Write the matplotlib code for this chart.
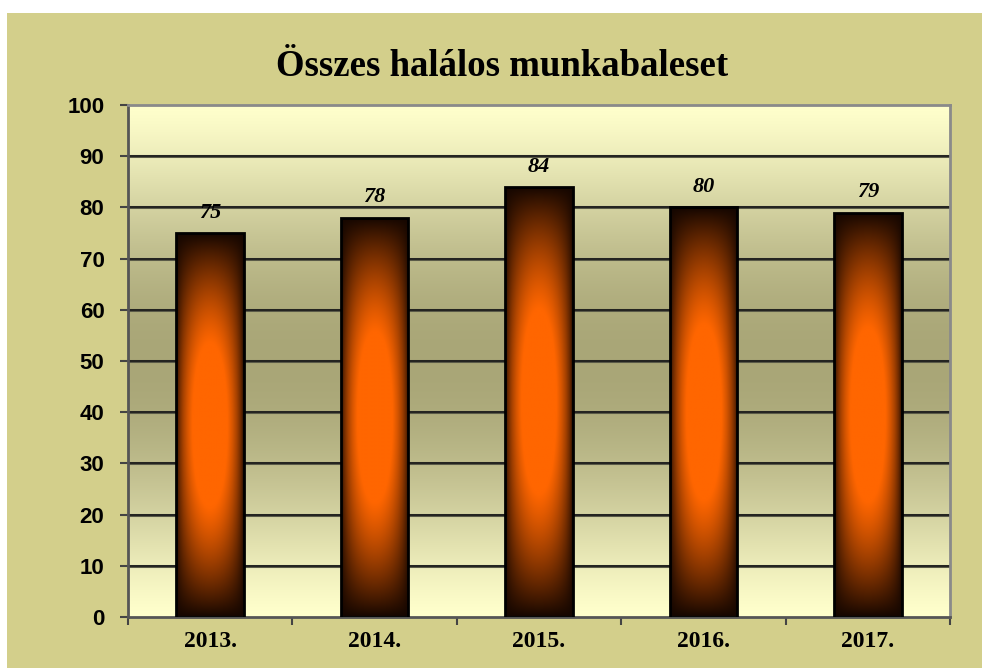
import numpy as np
import matplotlib
matplotlib.use('Agg')
import matplotlib.pyplot as plt
from matplotlib.patches import Rectangle
from matplotlib.colors import to_rgb

# Adatok
years = ['2013.', '2014.', '2015.', '2016.', '2017.']
deaths = [75, 78, 84, 80, 79]
title = 'Összes halálos munkabaleset'

fig = plt.figure(figsize=(9.82, 6.68), dpi=100, facecolor='white')
# khaki háttér (fent és bal oldalt fehér csík marad)
fig.patches.append(Rectangle((7 / 982, 0), 1, (668 - 13) / 668, transform=fig.transFigure,
                             facecolor='#D3CF8B', edgecolor='none', zorder=-5))

ax = fig.add_axes([128 / 982, 51 / 668, 822 / 982, 512 / 668])
ax.set_zorder(2)
ax.set_xlim(-0.5, len(years) - 0.5)
ax.set_ylim(0, 100)

# háttér színátmenet a rajzterületen
light = np.array(to_rgb('#FFFFCC'))
dark = np.array(to_rgb('#A9A677'))
t = np.linspace(0, 1, 256)
w = np.sin(np.pi * t) ** 1.3
bg = light[None, :] * (1 - w[:, None]) + dark[None, :] * w[:, None]
ax.imshow(bg[:, None, :], extent=[0, 1, 0, 1], transform=ax.transAxes,
          aspect='auto', zorder=0, interpolation='bilinear')

for v in range(10, 100, 10):
    ax.axhline(v, color='#5a5a48', lw=2.2, zorder=1)
    ax.axhline(v, color='#1a1a1a', lw=1.2, zorder=1)

bars = ax.bar(range(len(years)), deaths, width=0.41, facecolor='none',
              edgecolor='black', linewidth=2, zorder=3)

# oszlopok színátmenete
orange = np.array(to_rgb('#FF6600'))
black = np.array(to_rgb('#140600'))
nx, ny = 120, 300
xx = np.linspace(0, 1, nx)
yy = np.linspace(0, 1, ny)
hx = np.sin(np.pi * xx) ** 0.6
vy = np.sin(np.pi * yy) ** 0.9
f = np.clip(vy[:, None] * hx[None, :] * 1.25, 0, 1)
grad = black[None, None, :] * (1 - f[..., None]) + orange[None, None, :] * f[..., None]
for b in bars:
    x0, y0, bw, bh = b.get_x(), b.get_y(), b.get_width(), b.get_height()
    im = ax.imshow(grad, extent=[x0, x0 + bw, y0, y0 + bh], aspect='auto',
                   zorder=2, interpolation='bilinear', origin='lower')
    im.set_clip_path(b)

ax.set_xlim(-0.5, len(years) - 0.5)
ax.set_ylim(0, 100)

for i, v in enumerate(deaths):
    ax.text(i, v + 2.0, str(v), ha='center', va='bottom', fontsize=16,
            fontweight='bold', fontstyle='italic', family='Liberation Serif', zorder=4)

ax.set_yticks(range(0, 101, 10))
ax.set_yticklabels([str(v) for v in range(0, 101, 10)], fontsize=16,
                   fontweight='bold', family='Liberation Sans')
ax.set_xticks(range(len(years)))
ax.set_xticklabels(years, fontsize=17, fontweight='bold', family='Liberation Serif')
ax.set_xticks(np.arange(-0.5, len(years), 1), minor=True)
ax.tick_params(axis='x', which='major', length=0, pad=10)
ax.tick_params(axis='x', which='minor', length=6, width=1.5, color='#444444')
ax.tick_params(axis='y', length=6, width=1.5, color='#444444', pad=11)

for s in ['left', 'bottom']:
    ax.spines[s].set_color('#555555')
    ax.spines[s].set_linewidth(2)
for s in ['top', 'right']:
    ax.spines[s].set_color('#8a8a8a')
    ax.spines[s].set_linewidth(2)

fig.text(502 / 982, 1 - 66 / 668, title, ha='center', va='center', fontsize=26.5,
         fontweight='bold', family='Liberation Serif')

fig.savefig('out.png', dpi=100, facecolor=fig.get_facecolor())
